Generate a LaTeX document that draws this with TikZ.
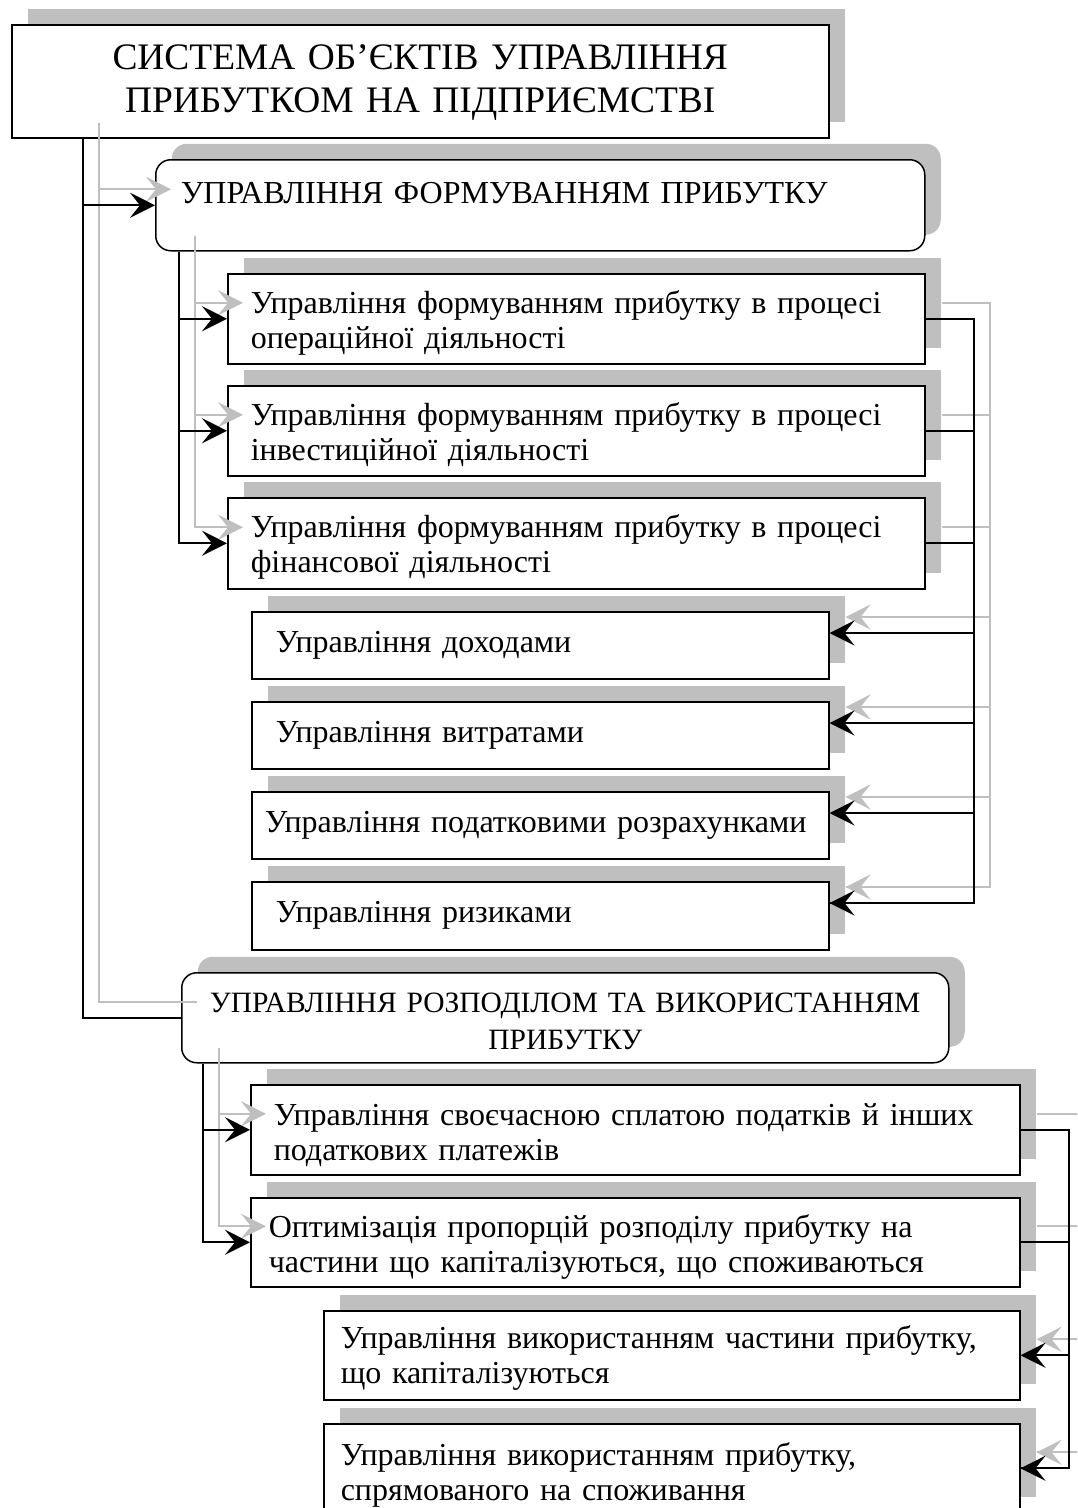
\documentclass[tikz,border=0pt]{standalone}
\usepackage{fontspec}
\setmainfont{Liberation Serif}
\usetikzlibrary{arrows.meta,shadows,calc}
\definecolor{shgray}{RGB}{191,191,191}
\newcommand\drawconnectors[2]{%
  % #1 plain line style, #2 arrow style
  \draw[#1] ($(title.south west)+(72,0)$) |- (b4.west);
  \draw[#2] ($(title.south west)+(72,0)$) |- (b1.west);
  \draw[#2] ($(b1.south west)+(24,0)$) |- (b2a.west);
  \draw[#2] ($(b1.south west)+(24,0)$) |- (b2b.west);
  \draw[#2] ($(b1.south west)+(24,0)$) |- (b2c.west);
  \draw[#1] (b2a.east) -- (rbus) |- (p3d);
  \draw[#1] (b2b.east) -- (b2b.east -| rbus);
  \draw[#1] (b2c.east) -- (b2c.east -| rbus);
  \draw[#2] (rbus |- p3a) -- (p3a);
  \draw[#2] (rbus |- p3b) -- (p3b);
  \draw[#2] (rbus |- p3c) -- (p3c);
  \draw[#2] (rbus |- p3d) -- (p3d);
  \draw[#2] ($(b4.south west)+(22,0)$) |- (b5a.west);
  \draw[#2] ($(b4.south west)+(22,0)$) |- (b5b.west);
  \draw[#1] (b5a.east) -- (rbusb) |- (b6b.east);
  \draw[#1] (b5b.east) -- (b5b.east -| rbusb);
  \draw[#2] (rbusb |- b6a.east) -- (b6a.east);
  \draw[#2] (rbusb |- b6b.east) -- (b6b.east);
}
\begin{document}
\begin{tikzpicture}[x=1pt,y=-1pt,
  boxbase/.style={draw=black, line width=1.5pt, fill=white, anchor=north west, inner ysep=0pt,
    general shadow={fill=shgray, draw=none, shadow xshift=16pt, shadow yshift=16pt}},
  leftbox/.style={boxbase, align=left, font=\fontsize{32pt}{35pt}\selectfont},
  capbox/.style={boxbase, rounded corners=15pt, font=\fontsize{32pt}{37pt}\selectfont},
  bline/.style={draw=black, line width=2pt},
  barrow/.style={bline, -{Stealth[length=25pt,width=25pt,inset=10pt]}},
  gline/.style={draw=shgray, line width=2pt, transform canvas={xshift=16pt,yshift=16pt}},
  garrow/.style={gline, -{Stealth[length=25pt,width=25pt,inset=10pt]}},
]
\useasboundingbox (0,0) rectangle (1077,1508);
\clip (0,0) rectangle (1077,1508);

\node[boxbase, align=center, text width=797pt, inner xsep=10pt, text height=44.3pt, text depth=68.7pt,
  font=\fontsize{37.4pt}{43.3pt}\selectfont] (title) at (11,24)
  {СИСТЕМА ОБ’ЄКТІВ УПРАВЛІННЯ\\ПРИБУТКОМ НА ПІДПРИЄМСТВІ};

\node[capbox, align=left, text width=719pt, inner xsep=25pt, text height=44pt, text depth=47pt] (b1) at (155,159)
  {УПРАВЛІННЯ ФОРМУВАННЯМ ПРИБУТКУ};

\node[leftbox, text width=651pt, inner xsep=23pt, text height=40pt, text depth=50pt] (b2a) at (227,273)
  {Управління формуванням прибутку в процесі\\операційної діяльності};
\node[leftbox, text width=651pt, inner xsep=23pt, text height=40pt, text depth=50pt] (b2b) at (227,385)
  {Управління формуванням прибутку в процесі\\інвестиційної діяльності};
\node[leftbox, text width=651pt, inner xsep=23pt, text height=40pt, text depth=51pt] (b2c) at (227,497)
  {Управління формуванням прибутку в процесі\\фінансової діяльності};

\node[leftbox, text width=529pt, inner xsep=24pt, text height=41pt, text depth=26pt] (b3a) at (251,611)
  {Управління доходами};
\node[leftbox, text width=529pt, inner xsep=24pt, text height=41pt, text depth=26pt] (b3b) at (251,701)
  {Управління витратами};
\node[leftbox, text width=551pt, inner xsep=13pt, text height=41pt, text depth=26pt] (b3c) at (251,791)
  {Управління податковими розрахунками};
\node[leftbox, text width=529pt, inner xsep=24pt, text height=41pt, text depth=27pt] (b3d) at (251,881)
  {Управління ризиками};

\node[capbox, align=center, text width=757pt, inner xsep=5pt, text height=40pt, text depth=50pt,
  font=\fontsize{29.5pt}{37pt}\selectfont] (b4) at (181,972)
  {УПРАВЛІННЯ РОЗПОДІЛОМ ТА ВИКОРИСТАННЯМ\\ПРИБУТКУ};

\node[leftbox, text width=723pt, inner xsep=23pt, text height=41pt, text depth=49pt] (b5a) at (250,1084)
  {Управління своєчасною сплатою податків й інших\\податкових платежів};
\node[leftbox, text width=733pt, inner xsep=18pt, text height=40pt, text depth=49pt] (b5b) at (250,1197)
  {Оптимізація пропорцій розподілу прибутку на\\частини що капіталізуються, що споживаються};

\node[leftbox, text width=662pt, inner xsep=17pt, text height=38pt, text depth=51pt] (b6a) at (323,1310)
  {Управління використанням частини прибутку,\\що капіталізуються};
\node[leftbox, text width=662pt, inner xsep=17pt, text height=42pt, text depth=47pt] (b6b) at (323,1423)
  {Управління використанням прибутку,\\спрямованого на споживання};

\coordinate (rbus) at ($(b2a.east)+(48,0)$);
\coordinate (rbusb) at ($(b5a.east)+(48,0)$);
\coordinate (p3a) at ($(b3a.north east)+(0,22)$);
\coordinate (p3b) at ($(b3b.north east)+(0,22)$);
\coordinate (p3c) at ($(b3c.north east)+(0,22)$);
\coordinate (p3d) at ($(b3d.north east)+(0,22)$);

\drawconnectors{gline}{garrow}
\drawconnectors{bline}{barrow}
\end{tikzpicture}
\end{document}
